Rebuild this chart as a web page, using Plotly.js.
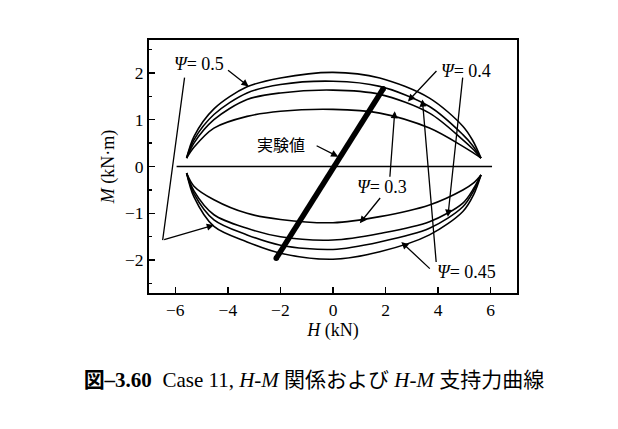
<!DOCTYPE html>
<html>
<head>
<meta charset="utf-8">
<script src="https://cdn.plot.ly/plotly-3.0.1.min.js"></script>
<style>html,body{margin:0;padding:0;background:#fff;}</style>
</head>
<body>
<div id="chart" style="width:618px;height:429px;"></div>
<script>
// ---- data ----
const hUpper = [-5.57, -5.29, -4.53, -3.27, -2.0, 0, 1.78, 3.67, 4.94, 5.31, 5.63];
const psi05Upper  = [0.18, 0.64, 1.23, 1.70, 1.89, 2.01, 1.89, 1.46, 0.86, 0.56, 0.18];
const psi045Upper = [0.18, 0.57, 1.11, 1.57, 1.75, 1.82, 1.71, 1.28, 0.68, 0.45, 0.18];
const psi04Upper  = [0.18, 0.50, 1.00, 1.43, 1.57, 1.63, 1.54, 1.14, 0.57, 0.38, 0.18];
const psi03Upper  = [0.18, 0.41, 0.82, 1.07, 1.18, 1.22, 1.14, 0.82, 0.43, 0.30, 0.18];

const hLower = [-5.57, -5.29, -4.53, -3.27, -2.0, 0, 1.78, 3.67, 4.94, 5.35, 5.63];
const psi05Lower  = [-0.14, -0.65, -1.28, -1.61, -1.85, -1.98, -1.82, -1.46, -0.96, -0.60, -0.18];
const psi045Lower = [-0.14, -0.58, -1.14, -1.46, -1.68, -1.77, -1.61, -1.32, -0.86, -0.52, -0.18];
const psi04Lower  = [-0.14, -0.52, -1.03, -1.32, -1.50, -1.57, -1.43, -1.18, -0.78, -0.47, -0.18];
const psi03Lower  = [-0.14, -0.42, -0.71, -1.00, -1.13, -1.20, -1.07, -0.82, -0.50, -0.35, -0.18];

const expH = [-2.16, 1.91];
const expM = [-1.96, 1.66];
const baseH = [-5.95, 6.05];
const baseM = [0, 0];

const xTicks = [-6, -4, -2, 0, 2, 4, 6];
const yTicks = [-2, -1, 0, 1, 2];

// ---- traces ----
const curveLine = {color: '#000', width: 1.6, shape: 'spline', smoothing: 0.9};
const curves = [
  [hUpper, psi05Upper, 'Ψ=0.5'], [hUpper, psi045Upper, 'Ψ=0.45'],
  [hUpper, psi04Upper, 'Ψ=0.4'], [hUpper, psi03Upper, 'Ψ=0.3'],
  [hLower, psi05Lower, 'Ψ=0.5'], [hLower, psi045Lower, 'Ψ=0.45'],
  [hLower, psi04Lower, 'Ψ=0.4'], [hLower, psi03Lower, 'Ψ=0.3']
];
const traces = curves.map(c => ({
  x: c[0], y: c[1], name: c[2], type: 'scatter', mode: 'lines',
  line: curveLine, hoverinfo: 'skip'
}));
traces.push({x: baseH, y: baseM, type: 'scatter', mode: 'lines',
  line: {color: '#000', width: 1.4}, hoverinfo: 'skip'});
traces.push({x: expH, y: expM, type: 'scatter', mode: 'lines+markers',
  line: {color: '#000', width: 5.5}, marker: {color: '#000', size: 5.5},
  name: '実験値', hoverinfo: 'skip'});

// ---- annotations ----
const serif = 'Liberation Serif, Times New Roman, serif';
const labFont = {family: serif, size: 18, color: '#000'};
function label(t, x, y) {
  return {text: t, x: x, y: y, xref: 'x', yref: 'y', showarrow: false,
    font: labFont, xanchor: 'center', yanchor: 'middle'};
}
function arrow(x0, y0, x1, y1, head) {
  return {text: '', x: x1, y: y1, ax: x0, ay: y0, xref: 'x', yref: 'y',
    axref: 'x', ayref: 'y', showarrow: true, arrowhead: head,
    arrowsize: 1.1, arrowwidth: 1.3, arrowcolor: '#000', standoff: 0, startstandoff: 0};
}
const annotations = [
  label('<i>Ψ</i>= 0.5', -5.11, 2.18),
  arrow(-4.05, 2.08, -3.21, 1.71, 2),
  arrow(-5.64, 1.93, -6.48, -1.57, 0),
  arrow(-6.48, -1.57, -4.53, -1.25, 2),

  label('<i>Ψ</i>= 0.4', 5.06, 2.04),
  arrow(3.99, 2.07, 2.85, 1.39, 2),
  arrow(4.94, 1.93, 4.37, -1.07, 2),

  label('<i>Ψ</i>= 0.3', 1.875, -0.445),
  arrow(2.16, -0.25, 2.35, 1.18, 2),
  arrow(1.84, -0.64, 1.02, -1.21, 2),

  label('<i>Ψ</i>= 0.45', 5.06, -2.26),
  arrow(3.93, -2.07, 3.40, 1.43, 2),
  arrow(3.74, -2.21, 2.60, -1.61, 2),

  {text: '実験値', x: -1.99, y: 0.49, xref: 'x', yref: 'y', showarrow: false,
   font: {family: 'Noto Sans CJK JP', size: 16, color: '#000'}},
  arrow(-0.68, 0.46, 0.20, 0.21, 2)
];

const axisCommon = {
  showgrid: false, zeroline: false, showline: true, linecolor: '#000', linewidth: 2,
  mirror: true, ticks: 'inside', ticklen: 6, tickwidth: 1.5, tickcolor: '#000',
  tickfont: {family: serif, size: 17.5, color: '#000'}
};

const layout = {
  width: 618, height: 429,
  margin: {l: 149, r: 101, t: 40, b: 136},
  paper_bgcolor: '#fff', plot_bgcolor: '#fff',
  showlegend: false,
  title: {
    text: '<b>図–3.60</b>  Case 11, <i>H-M</i> 関係および <i>H-M</i> 支持力曲線',
    font: {family: 'Liberation Serif, Noto Sans CJK JP', size: 21, color: '#000'},
    x: 0.508, xanchor: 'center', xref: 'container',
    y: 0.115, yanchor: 'middle', yref: 'container'
  },
  xaxis: Object.assign({}, axisCommon, {
    range: [-7, 7], tickmode: 'array', tickvals: xTicks,
    title: {text: '\u00a0\u00a0\u00a0\u00a0\u00a0<i>H</i> (kN)', font: {family: serif, size: 18, color: '#000'}, standoff: 0}
  }),
  yaxis: Object.assign({}, axisCommon, {
    range: [-2.7, 2.7], tickmode: 'array', tickvals: yTicks,
    minor: {dtick: 0.5, ticks: 'inside', ticklen: 3, tickwidth: 1.2, tickcolor: '#000'},
    title: {text: '<i>M</i> (kN·m)', font: {family: serif, size: 18, color: '#000'}, standoff: 6}
  }),
  annotations: annotations
};

Plotly.newPlot('chart', traces, layout, {displayModeBar: false, staticPlot: true});
</script>
</body>
</html>
